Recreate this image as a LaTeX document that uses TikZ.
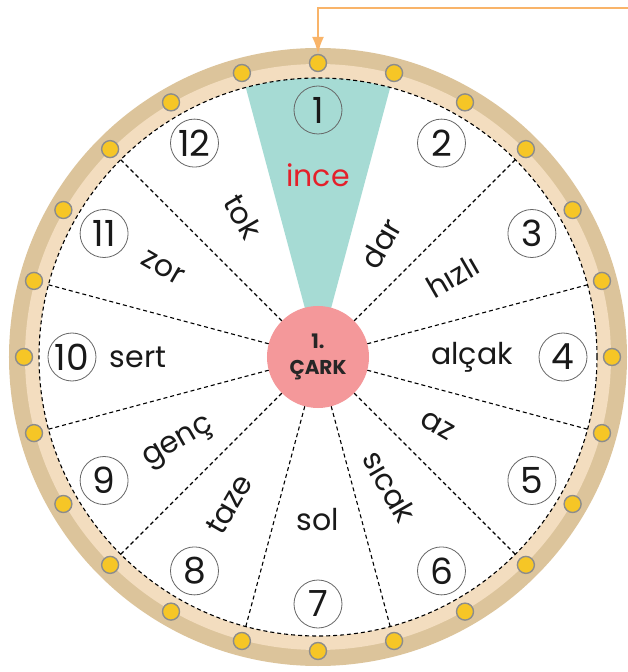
\documentclass[tikz,border=0pt]{standalone}
\usepackage{fontspec}
\setmainfont{Poppins}
\usetikzlibrary{arrows.meta}

\definecolor{rimbrown}{RGB}{220,196,155}
\definecolor{rimlight}{RGB}{243,221,191}
\definecolor{wedgeteal}{RGB}{166,219,212}
\definecolor{hubpink}{RGB}{244,152,154}
\definecolor{studyellow}{RGB}{246,198,38}
\definecolor{studgray}{RGB}{140,140,140}
\definecolor{pointerorange}{RGB}{249,180,105}
\definecolor{wordred}{RGB}{228,32,42}

\begin{document}
\begin{tikzpicture}[
  x=1pt, y=1pt,
  >={Latex[length=17pt, width=12pt]},
  pointer/.style={->, line width=2pt, draw=pointerorange},
  divider/.style={draw=black, line width=1.1pt, dash pattern=on 4pt off 3pt},
  stud/.style={circle, draw=studgray, fill=studyellow, line width=1.4pt,
               minimum size=17pt, inner sep=0pt},
  num/.style={circle, draw=black!60, line width=.8pt, minimum size=48pt,
              inner sep=0pt, text=black!90, font=\fontsize{36}{36}\selectfont},
  word/.style={inner sep=1pt, text=black!90, font=\fontsize{30}{30}\selectfont},
  hub/.style={circle, fill=hubpink, minimum size=102pt, inner sep=0pt,
              align=center, text=black!85, font=\bfseries\fontsize{20}{26}\selectfont}
]
\useasboundingbox (-318,-315) rectangle (310,357);

% ---------- rim and face ----------
\fill[rimbrown] (0,0) circle (309);
\fill[rimlight] (0,0) circle (293);
\fill[white] (0,0) circle (279);
\fill[wedgeteal] (0,0) -- (75:279) arc[start angle=75, end angle=105, radius=279] -- cycle;
\draw[divider] (0,0) circle (279);

% ---------- sector lines ----------
\foreach \a in {15,45,135,165,195,225,255,285,315,345}
  \draw[divider] (\a:51) -- (\a:279);

% ---------- studs ----------
\foreach \i in {0,...,23}
  \node[stud] (s\i) at ({90-15*\i}:294) {};

% ---------- hub ----------
\node[hub] (hub) at (0,0) {1.\\ÇARK};

% ---------- sector numbers ----------
\node[num] (n1)  at (90:247)   {1};
\node[num] (n2)  at (60:247)   {2};
\node[num] (n3)  at (30:247)   {3};
\node[num] (n4)  at (0:245)    {4};
\node[num] (n5)  at (-30:247)  {5};
\node[num] (n6)  at (-60:247)  {6};
\node[num] (n7)  at (-90:247)  {7};
\node[num] (n8)  at (-120:247) {8};
\node[num] (n9)  at (-150:247) {9};
\node[num] (n10) at (180:246)  {10};
\node[num] (n11) at (150:247)  {11};
\node[num] (n12) at (120:247)  {12};

% ---------- words ----------
\node[word, text=wordred]  (w1)  at (90:182)   {ince};
\node[word, rotate=60]     (w2)  at (61:130)   {dar};
\node[word, rotate=30]     (w3)  at (31:157)   {hızlı};
\node[word]                (w4)  at (0:154)    {alçak};
\node[word, rotate=-30]    (w5)  at (-30:138)  {az};
\node[word, rotate=-60]    (w6)  at (-61:148)  {sıcak};
\node[word]                (w7)  at (-90:163)  {sol};
\node[word, rotate=60]     (w8)  at (-121:172) {taze};
\node[word, rotate=30]     (w9)  at (-148:164) {genç};
\node[word]                (w10) at (180:180)  {sert};
\node[word, rotate=-30]    (w11) at (150:179)  {zor};
\node[word, rotate=-60]    (w12) at (118:159)  {tok};

% ---------- pointer ----------
\coordinate (start) at (310,349);
\draw[pointer] (start) -| (s0);

\end{tikzpicture}
\end{document}
